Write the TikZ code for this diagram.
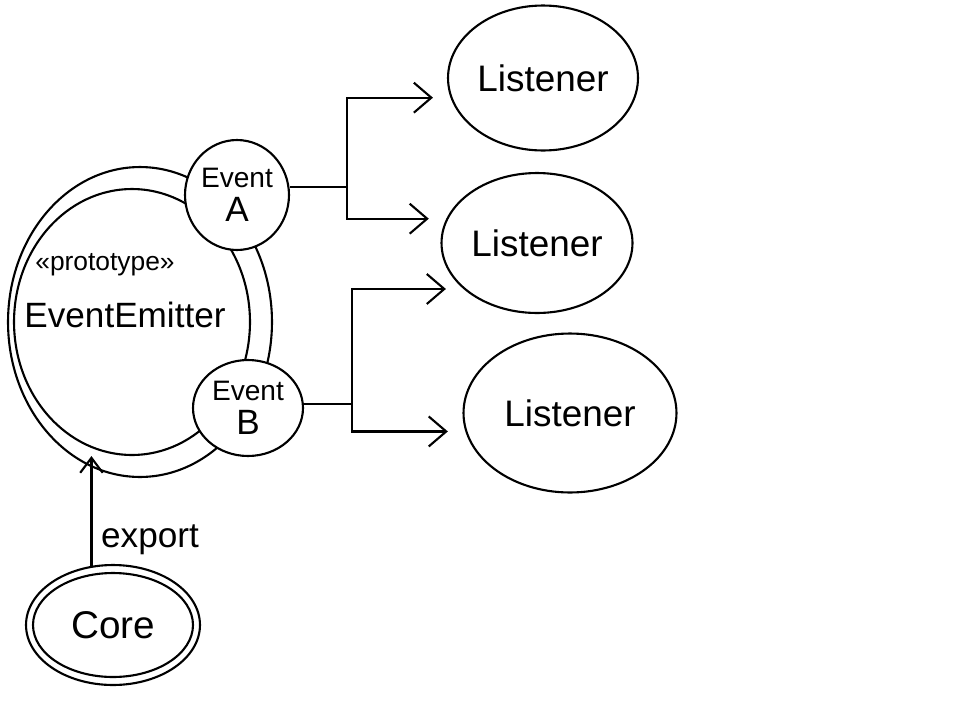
\documentclass[tikz,border=0pt]{standalone}
\usepackage{fontspec}
\setmainfont{Liberation Sans}
\usetikzlibrary{shapes.geometric,arrows.meta}

\begin{document}
\begin{tikzpicture}[
    x=0.02cm, y=-0.02cm, line width=1.2pt,
    blob/.style={ellipse, draw, inner sep=0pt},
    eventnode/.style={blob, fill=white, align=center, font=\fontsize{16}{19}\selectfont},
    listener/.style={blob, font=\fontsize{21}{24}\selectfont},
    flow/.style={-{Straight Barb[length=0.35cm, width=0.6cm]}, shorten >=0.35cm}
]
\useasboundingbox (0,0) rectangle (960,717);

% EventEmitter
\node[blob, minimum width=5.28cm, minimum height=6.2cm] (emitterouter) at (140,322) {};
\node[blob, minimum width=4.72cm, minimum height=5.32cm] (emitter) at (132,322) {};
\node[font=\fontsize{15}{18}\selectfont] (proto) at (105,265) {«prototype»};
\node[font=\fontsize{20}{24}\selectfont] (emittername) at (125,315) {EventEmitter};

% Events
\node[eventnode, minimum width=2.08cm, minimum height=2.2cm] (eventA) at (237,195) {Event\\{\fontsize{20}{22}\selectfont A}};
\node[eventnode, minimum width=2.2cm, minimum height=1.92cm] (eventB) at (248,408) {Event\\{\fontsize{20}{22}\selectfont B}};

% Listeners
\node[listener, minimum width=3.8cm, minimum height=2.9cm] (listener1) at (543,78) {Listener};
\node[listener, minimum width=3.82cm, minimum height=2.8cm] (listener2) at (537,243) {Listener};
\node[listener, minimum width=4.26cm, minimum height=3.18cm] (listener3) at (570,413) {Listener};

% Core
\node[blob, minimum width=3.48cm, minimum height=2.4cm] (coreouter) at (113,625) {};
\node[blob, minimum width=3.2cm, minimum height=2.08cm, font=\fontsize{22}{26}\selectfont] (core) at (113,625) {Core};

% Fleches
\coordinate (splitA) at (347,187);
\coordinate (splitB) at (352,404);
\draw (eventA.east |- splitA) -- (splitA);
\draw[flow] (splitA) |- (listener1.192);
\draw[flow] (splitA) |- (listener2.165);
\draw (eventB.east |- splitB) -- (splitB);
\draw[flow] (splitB) |- (listener2.212);
\draw[flow] (splitB) |- (listener3.190);

\draw[-{Straight Barb[length=0.3cm, width=0.45cm]}] (coreouter.110) -- (coreouter.110 |- emitter.south);
\node[font=\fontsize{20}{24}\selectfont] (exportlabel) at (150,540) {export};

\end{tikzpicture}
\end{document}
